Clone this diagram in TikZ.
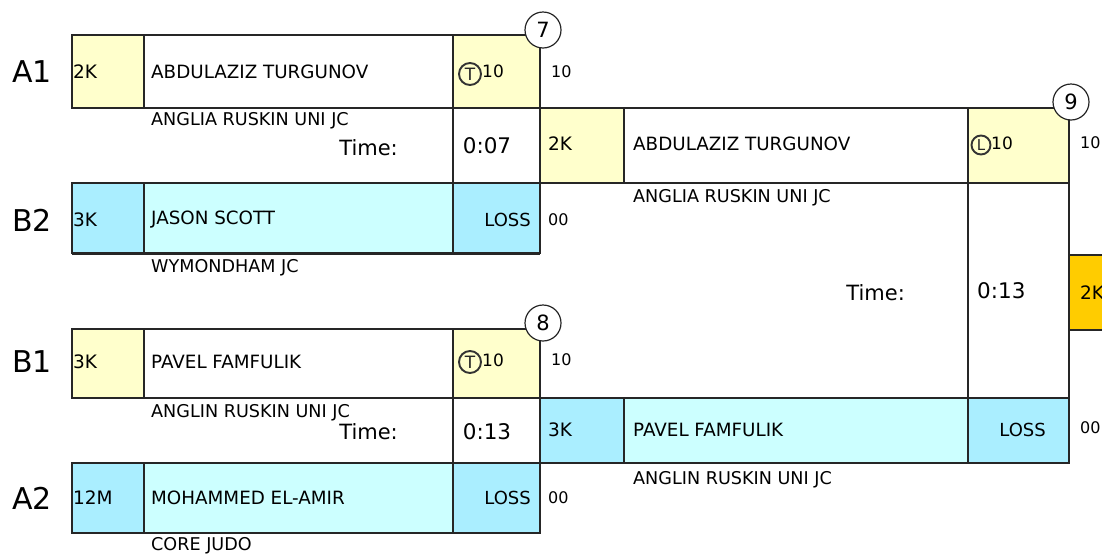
\documentclass[tikz,border=0pt]{standalone}
\usepackage{fontspec}
\setmainfont{DejaVu Sans}
\definecolor{yel}{HTML}{FFFFCC}
\definecolor{cyl}{HTML}{CCFFFF}
\definecolor{blu}{HTML}{AAEEFF}
\definecolor{org}{HTML}{FFCC00}
\newcommand\fs[1]{\fontsize{#1}{#1}\selectfont}
\begin{document}
\begin{tikzpicture}[x=1pt,y=-1pt,
  cell/.style={draw=black!85, line width=1.6pt, inner sep=0pt, outer sep=0pt},
  pool/.style={font=\fs{30}, anchor=west, inner sep=0pt},
  seedtxt/.style={font=\fs{18.5}, anchor=west, inner sep=0pt},
  nametxt/.style={font=\fs{18.3}, anchor=west, inner sep=0pt},
  clubtxt/.style={font=\fs{17.6}, anchor=west, inner sep=0pt},
  timelbl/.style={font=\fs{21}, anchor=east, inner sep=0pt},
  timeval/.style={font=\fs{21.5}, inner sep=0pt},
  scoretxt/.style={font=\fs{17}, anchor=west, inner sep=0pt},
  outtxt/.style={font=\fs{16}, anchor=west, inner sep=0pt},
  losstxt/.style={font=\fs{18}, anchor=east, inner sep=0pt},
  matchno/.style={circle, draw=black!85, fill=white, line width=1.2pt, minimum size=36pt, inner sep=0pt, font=\fs{21}},
  icon/.style={circle, draw=black!80, line width=1.9pt, minimum size=22pt, inner sep=0pt, font=\fs{17}, text=black!85}
]
\useasboundingbox (0,0) rectangle (1102,555);
\fill[white] (0,0) rectangle (1102,555);
% ---------- match 7 ----------
\path[cell, fill=yel] (72,35) rectangle (144,108);
\path[cell, fill=white] (144,35) rectangle (453,108);
\path[cell, fill=yel] (453,35) rectangle (540,108);
\path[cell, fill=white] (453,108) rectangle (540,183);
\path[cell, fill=blu] (72,183) rectangle (144,253);
\path[cell, fill=cyl] (144,183) rectangle (453,253);
\path[cell, fill=blu] (453,183) rectangle (540,253);
\draw[line width=2.6pt, black!85] (72,253.5) -- (540,253.5);
% ---------- match 8 ----------
\path[cell, fill=yel] (72,329) rectangle (144,398);
\path[cell, fill=white] (144,329) rectangle (453,398);
\path[cell, fill=yel] (453,329) rectangle (540,398);
\path[cell, fill=white] (453,398) rectangle (540,463);
\path[cell, fill=blu] (72,463) rectangle (144,533);
\path[cell, fill=cyl] (144,463) rectangle (453,533);
\path[cell, fill=blu] (453,463) rectangle (540,533);
% ---------- match 9 ----------
\path[cell, fill=yel] (540,108) rectangle (624,183);
\path[cell, fill=white] (624,108) rectangle (968,183);
\path[cell, fill=yel] (968,108) rectangle (1069,183);
\path[cell, fill=white] (968,183) rectangle (1069,398);
\path[cell, fill=blu] (540,398) rectangle (624,463);
\path[cell, fill=cyl] (624,398) rectangle (968,463);
\path[cell, fill=blu] (968,398) rectangle (1069,463);
\path[cell, fill=org] (1069,255) rectangle (1110,330);
% ---------- pool labels ----------
\node[pool] (pA1) at (12,72) {A1};
\node[pool] (pB2) at (12,220) {B2};
\node[pool] (pB1) at (12,362) {B1};
\node[pool] (pA2) at (12,498) {A2};
% ---------- seeds ----------
\node[seedtxt] (s1) at (73,72) {2K};
\node[seedtxt] (s2) at (73,220) {3K};
\node[seedtxt] (s3) at (73,362) {3K};
\node[seedtxt] (s4) at (73,498) {12M};
\node[seedtxt] (s5) at (548,144) {2K};
\node[seedtxt] (s6) at (548,430) {3K};
\node[seedtxt] (s7) at (1080,293) {2K};
% ---------- names ----------
\node[nametxt] (n1) at (151,72) {ABDULAZIZ TURGUNOV};
\node[nametxt] (n2) at (151,220) {JASON SCOTT};
\node[nametxt] (n3) at (151,362) {PAVEL FAMFULIK};
\node[nametxt] (n4) at (151,498) {MOHAMMED EL-AMIR};
\node[nametxt] (n5) at (633,144) {ABDULAZIZ TURGUNOV};
\node[nametxt] (n6) at (633,430) {PAVEL FAMFULIK};
% ---------- clubs ----------
\node[clubtxt] (c1) at (151,121) {ANGLIA RUSKIN UNI JC};
\node[clubtxt] (c2) at (151,268) {WYMONDHAM JC};
\node[clubtxt] (c3) at (151,413) {ANGLIN RUSKIN UNI JC};
\node[clubtxt] (c4) at (151,546) {CORE JUDO};
\node[clubtxt] (c5) at (633,198) {ANGLIA RUSKIN UNI JC};
\node[clubtxt] (c6) at (633,480) {ANGLIN RUSKIN UNI JC};
% ---------- times ----------
\node[timelbl] (tl7) at (398,148) {Time:};
\node[timeval] (tv7) at (487,146) {0:07};
\node[timelbl] (tl8) at (398,432) {Time:};
\node[timeval] (tv8) at (487,432) {0:13};
\node[timelbl] (tl9) at (905,293) {Time:};
\node[timeval, anchor=west] (tv9) at (977,291) {0:13};
% ---------- scores ----------
\node[icon] (i7) at (470,74) {T};
\node[scoretxt] (sc7) at (482,71) {10};
\node[outtxt] (o7a) at (551,72) {10};
\node[losstxt] (l7) at (531,220) {LOSS};
\node[outtxt] (o7b) at (548,220) {00};
\node[icon] (i8) at (470,362) {T};
\node[scoretxt] (sc8) at (482,360) {10};
\node[outtxt] (o8a) at (551,360) {10};
\node[losstxt] (l8) at (531,498) {LOSS};
\node[outtxt] (o8b) at (548,498) {00};
\node[icon, minimum size=19pt, font=\fs{15}] (i9) at (981,145) {L};
\node[scoretxt] (sc9) at (991,143) {10};
\node[outtxt] (o9a) at (1080,143) {10};
\node[losstxt] (l9) at (1046,430) {LOSS};
\node[outtxt] (o9b) at (1080,428) {00};
% ---------- match numbers ----------
\node[matchno] (m7) at (543,30) {7};
\node[matchno] (m8) at (543,323) {8};
\node[matchno] (m9) at (1071,102) {9};
\end{tikzpicture}
\end{document}
